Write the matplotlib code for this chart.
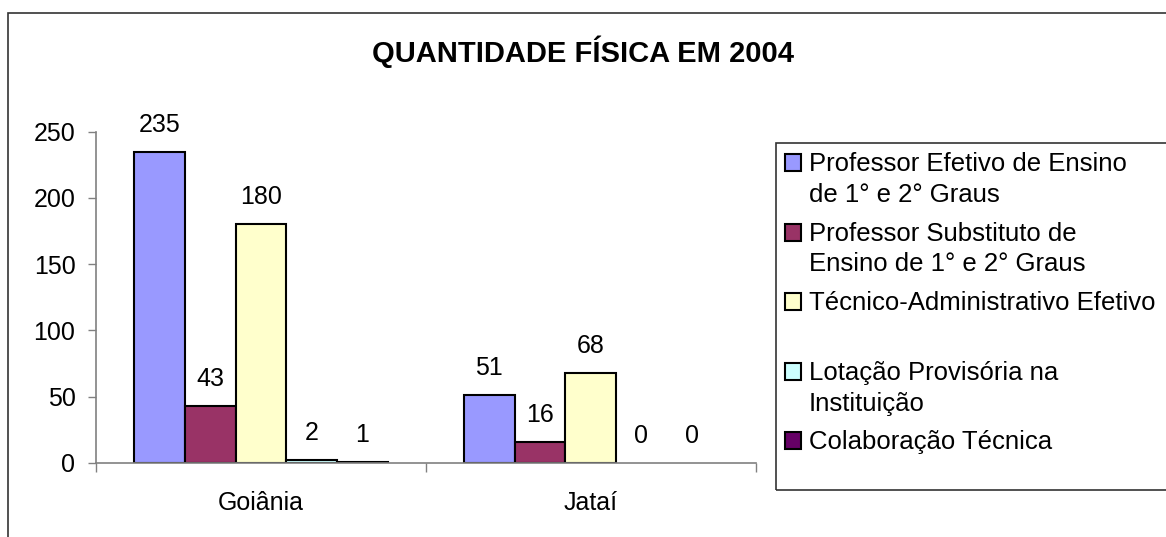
import numpy as np
import matplotlib.pyplot as plt
from matplotlib.patches import Rectangle

plt.rcParams['font.family'] = ['Liberation Sans', 'DejaVu Sans']

# Data
cidades = ["Goiânia", "Jataí"]
series = [
    "Professor Efetivo de Ensino\nde 1° e 2° Graus",
    "Professor Substituto de\nEnsino de 1° e 2° Graus",
    "Técnico-Administrativo Efetivo",
    "Lotação Provisória na\nInstituição",
    "Colaboração Técnica",
]
valores = [
    [235, 51],
    [43, 16],
    [180, 68],
    [2, 0],
    [1, 0],
]
cores = ["#9999FF", "#993366", "#FFFFCC", "#CCFFFF", "#660066"]

W, H = 1166, 537
fig = plt.figure(figsize=(W / 100, H / 100), dpi=100)


def fx(x):
    return x / W


def fy(y):
    return 1 - y / H


# outer chart frame
fig.patches.append(Rectangle((fx(8), fy(545)), fx(1170 - 8), fy(13) - fy(545),
                             transform=fig.transFigure, fill=False,
                             edgecolor="#333333", linewidth=1.2))

ax = fig.add_axes([fx(96), fy(463), fx(755.5) - fx(96), fy(131.7) - fy(463)])

n = len(series)
slot = 1 / (n + 1.5)
x = np.arange(len(cidades))
for i, (nome, vals, cor) in enumerate(zip(series, valores, cores)):
    pos = x + (0.75 + i + 0.5) * slot
    lw = [1.5 if v > 0 else 0 for v in vals]
    ax.bar(pos, vals, width=slot, color=cor, edgecolor="black", linewidth=lw)
    for p, v in zip(pos, vals):
        ax.annotate(str(v), (p, v), xytext=(0, 14.4), textcoords="offset points",
                    ha="center", va="baseline", fontsize=18)

ax.set_xlim(0, len(cidades))
ax.set_ylim(0, 250)
ax.set_yticks([0, 50, 100, 150, 200, 250])
ax.set_xticks(x + 0.5)
ax.set_xticklabels(cidades)
ax.set_xticks(np.arange(len(cidades) + 1), minor=True)
ax.tick_params(axis="x", which="major", length=0, pad=20, labelsize=18)
ax.tick_params(axis="x", which="minor", length=6.5, width=1, color="#808080")
ax.tick_params(axis="y", length=5.8, width=1, color="#808080", pad=9, labelsize=18)
for s in ["top", "right"]:
    ax.spines[s].set_visible(False)
for s in ["left", "bottom"]:
    ax.spines[s].set_color("#808080")
    ax.spines[s].set_linewidth(1.2)

fig.text(fx(583), fy(62), "QUANTIDADE FÍSICA EM 2004", ha="center", va="baseline",
         fontsize=21, fontweight="bold")

# legend
fig.patches.append(Rectangle((fx(776), fy(490)), fx(1175 - 776), fy(143) - fy(490),
                             transform=fig.transFigure, fill=False,
                             edgecolor="#333333", linewidth=1.2))
baselines = [171, 240.5, 310, 380, 448.5]
for nome, cor, b in zip(series, cores, baselines):
    fig.patches.append(Rectangle((fx(785), fy(b)), fx(16), fy(b - 17) - fy(b),
                                 transform=fig.transFigure, facecolor=cor,
                                 edgecolor="black", linewidth=1.5))
    for k, linha in enumerate(nome.split("\n")):
        fig.text(fx(809), fy(b + k * 30.6), linha, ha="left", va="baseline",
                 fontsize=18.5)

fig.savefig("out.png", dpi=100)
